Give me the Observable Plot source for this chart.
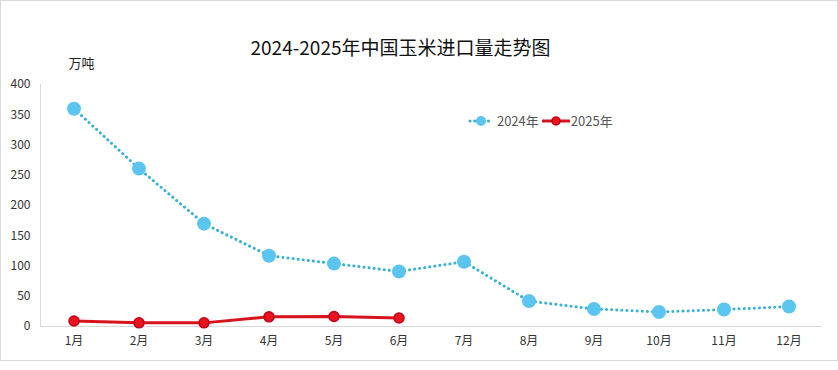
<!DOCTYPE html>
<html><head><meta charset="utf-8">
<script src="https://cdn.jsdelivr.net/npm/d3@7"></script>
<script src="https://cdn.jsdelivr.net/npm/@observablehq/plot@0.6"></script>
<style>
body{margin:0;background:#fff;font-family:"Noto Sans CJK SC","Noto Sans",sans-serif;}
#wrap{position:relative;width:838px;height:370px;}
#box{position:absolute;left:0;top:0;width:836px;height:359px;border:1px solid #d9d9d9;}
#legend{position:absolute;left:468px;top:111px;display:flex;align-items:center;font-size:13px;color:#555;}
#legend span{margin-right:2px}
</style></head>
<body><div id="wrap"><div id="box"></div><div id="chart"></div>
<div id="legend">
<svg width="26" height="14"><line x1="2" y1="7" x2="24" y2="7" stroke="#3ab0d0" stroke-width="3" stroke-dasharray="0.1 4.5" stroke-linecap="round"/><circle cx="13" cy="7" r="5" fill="#5bc4ef"/></svg><span>&nbsp;2024年</span>
<svg width="30" height="14"><line x1="1" y1="7" x2="29" y2="7" stroke="#d7141e" stroke-width="3"/><circle cx="15" cy="7" r="4" fill="#e8141e" stroke="#c00010" stroke-width="1.5"/></svg><span>2025年</span>
</div></div>
<script>
const months = ["1月","2月","3月","4月","5月","6月","7月","8月","9月","10月","11月","12月"];
const y2024 = [360, 261, 170, 117, 104, 91, 107, 42, 29, 24, 28, 33];
const months2025 = ["1月","2月","3月","4月","5月","6月"];
const y2025 = [9, 6, 6, 16, 16.5, 14];
const yTicks = [0,50,100,150,200,250,300,350,400];
const title = "2024-2025年中国玉米进口量走势图";
const unit = "万吨";

const d24 = months.map((m,i)=>({m, v:y2024[i]}));
const d25 = months2025.map((m,i)=>({m, v:y2025[i]}));

const chart = Plot.plot({
  width: 838, height: 370,
  marginLeft: 40, marginRight: 16, marginTop: 84, marginBottom: 44,
  style: {fontFamily: '"Noto Sans CJK SC","Noto Sans",sans-serif', fontSize: "12px", color: "#333", background: "transparent", overflow: "visible"},
  x: {type: "band", domain: months, padding: 0, label: null},
  y: {domain: [0, 400], ticks: yTicks, label: null},
  marks: [
    Plot.frame({anchor: "left", stroke: "#d9d9d9"}),
    Plot.ruleY([0], {stroke: "#d9d9d9", strokeWidth: 1.2}),
    Plot.axisY({ticks: yTicks, tickSize: 0, tickPadding: 10, fontSize: 12, fill: "#333"}),
    Plot.axisX({tickSize: 0, tickPadding: 10, fontSize: 12, fill: "#333"}),
    Plot.line(d24, {x: "m", y: "v", stroke: "#3ab0d0", strokeWidth: 3, strokeDasharray: "0.1 5", strokeLinecap: "round"}),
    Plot.dot(d24, {x: "m", y: "v", r: 7, fill: "#5bc4ef", stroke: "none"}),
    Plot.line(d25, {x: "m", y: "v", stroke: "#d7141e", strokeWidth: 3}),
    Plot.dot(d25, {x: "m", y: "v", r: 5, fill: "#e8141e", stroke: "#c4001a", strokeWidth: 1.5}),
    Plot.text([title], {frameAnchor: "top", dy: -43, dx: -31, fontSize: 19, fill: "#111", text: d => d}),
    Plot.text([unit], {frameAnchor: "top-left", dx: 28, dy: -26, fontSize: 13, fill: "#222", textAnchor: "start", text: d => d})
  ]
});
document.getElementById("chart").appendChild(chart);
</script></body></html>
